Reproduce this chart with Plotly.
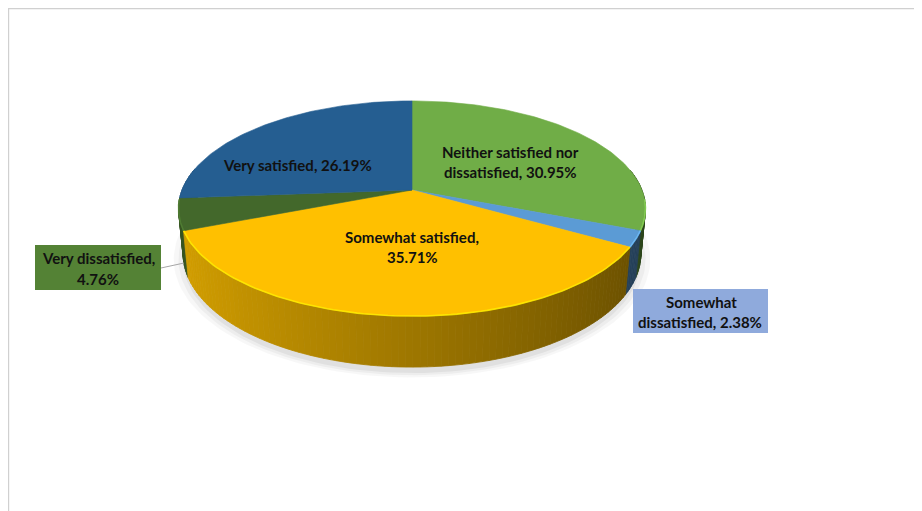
import numpy as np
import plotly.graph_objects as go

# ---- data ----
categories = ["Neither satisfied nor dissatisfied", "Somewhat dissatisfied",
              "Somewhat satisfied", "Very dissatisfied", "Very satisfied"]
values = [30.95, 2.38, 35.71, 4.76, 26.19]
colors = ["#70AD47", "#5B9BD5", "#FFC000", "#43682B", "#255E91"]

# ---- 3D perspective pie geometry (pixel axes) ----
W, HGT = 922, 511
PAGE_OFF = 8  # page body margin
ELEV = np.radians(27.0)
S, C = np.sin(ELEV), np.cos(ELEV)
DIST = 5.177
FOC = 1190.7
THICK = 0.2228
CX, CY = 412.0, 190.0


def proj(theta, y, r=1.0):
    X = r * np.sin(theta)
    Z = r * np.cos(theta)
    yc = y * C + Z * S
    d = DIST + Z * C - y * S
    return CX + FOC * X / d, CY - FOC * yc / d


def hex2rgb(h):
    h = h.lstrip("#")
    return tuple(int(h[i:i + 2], 16) for i in (0, 2, 4))


def shade(h, f):
    r, g, b = hex2rgb(h)
    return "rgb(%d,%d,%d)" % (min(255, r * f), min(255, g * f), min(255, b * f))


total = sum(values)
bounds = np.concatenate([[0], np.cumsum(values)]) / total * 2 * np.pi

fig = go.Figure()

# soft shadow under the pie
for k, (sc, op) in enumerate([(1.04, 0.03), (1.02, 0.04), (1.0, 0.05)]):
    t = np.linspace(0, 2 * np.pi, 200)
    xs, ys = proj(t, -THICK, sc)
    fig.add_trace(go.Scatter(x=xs, y=ys + 4 + k, mode="lines", fill="toself",
                             fillcolor="rgba(0,0,0,%.2f)" % op, line=dict(width=0),
                             hoverinfo="skip", showlegend=False))

# side walls (near half), drawn back to front
quads = []
for i, (a0, a1) in enumerate(zip(bounds[:-1], bounds[1:])):
    n = max(2, int(np.ceil((a1 - a0) / np.radians(1.5))))
    ts = np.linspace(a0, a1, n + 1)
    for ta, tb in zip(ts[:-1], ts[1:]):
        tm = 0.5 * (ta + tb)
        if np.cos(tm) > 0.2:
            continue
        quads.append((np.cos(tm), i, ta, tb, tm))
quads.sort(key=lambda q: -q[0])
for _, i, ta, tb, tm in quads:
    xa, ya = proj(ta, 0.0)
    xb, yb = proj(tb, 0.0)
    xc, yc = proj(tb, -THICK)
    xd, yd = proj(ta, -THICK)
    f = 0.62 - 0.22 * np.sin(tm)
    col = shade(colors[i], f)
    fig.add_trace(go.Scatter(x=[xa, xb, xc, xd, xa], y=[ya, yb, yc, yd, ya],
                             mode="lines", fill="toself", fillcolor=col,
                             line=dict(width=0.8, color=col),
                             hoverinfo="skip", showlegend=False))

# top faces
for i, (a0, a1) in enumerate(zip(bounds[:-1], bounds[1:])):
    t = np.linspace(a0, a1, max(3, int((a1 - a0) / np.radians(1))))
    xs, ys = proj(t, 0.0)
    xs = np.concatenate([[CX], xs, [CX]])
    ys = np.concatenate([[CY], ys, [CY]])
    fig.add_trace(go.Scatter(x=xs, y=ys, mode="lines", fill="toself",
                             fillcolor=colors[i], line=dict(width=0.6, color=colors[i]),
                             name=categories[i], hoverinfo="skip", showlegend=False))

# bevel highlight along the front rim
for i, (a0, a1) in enumerate(zip(bounds[:-1], bounds[1:])):
    lo, hi = max(a0, np.radians(95)), min(a1, np.radians(265))
    if hi <= lo:
        continue
    t = np.linspace(lo, hi, 100)
    xs, ys = proj(t, 0.0)
    fig.add_trace(go.Scatter(x=xs, y=ys, mode="lines",
                             line=dict(width=1.6, color=shade(colors[i], 1.25)),
                             opacity=0.8, hoverinfo="skip", showlegend=False))

# ---- labels ----
font = dict(family="Lato, Carlito, Calibri, sans-serif", size=15, color="#111111")
shapes = [
    dict(type="rect", x0=8.5, y0=8.6, x1=940, y1=530, line=dict(color="#D0D0D0", width=1.4),
         layer="below"),
    dict(type="rect", x0=35, y0=245, x1=161, y1=290, fillcolor="#548235",
         line=dict(width=0)),
    dict(type="rect", x0=633, y0=289, x1=768, y1=333, fillcolor="#8FAADC",
         line=dict(width=0)),
    dict(type="line", x0=161, y0=268, x1=184, y1=263, line=dict(color="#A6A6A6", width=1)),
]

label_lines = [
    (297, 165, "Very satisfied, 26.19%"),
    (510, 152, "Neither satisfied nor"),
    (510, 172, "dissatisfied, 30.95%"),
    (412, 237, "Somewhat satisfied,"),
    (412, 257, "35.71%"),
    (98, 258, "Very dissatisfied,"),
    (98, 279, "4.76%"),
    (701, 302, "Somewhat"),
    (700, 322, "dissatisfied, 2.38%"),
]
annotations = [dict(x=x, y=y, text="<b>%s</b>" % s, showarrow=False, font=font,
                    xanchor="center", yanchor="middle") for x, y, s in label_lines]

fig.update_layout(
    width=W, height=HGT,
    margin=dict(l=0, r=0, t=0, b=0),
    paper_bgcolor="white", plot_bgcolor="white",
    xaxis=dict(range=[PAGE_OFF, W + PAGE_OFF], visible=False, fixedrange=True),
    yaxis=dict(range=[HGT + PAGE_OFF, PAGE_OFF], visible=False, fixedrange=True),
    shapes=shapes, annotations=annotations, showlegend=False,
)

fig.write_html("out.html")
